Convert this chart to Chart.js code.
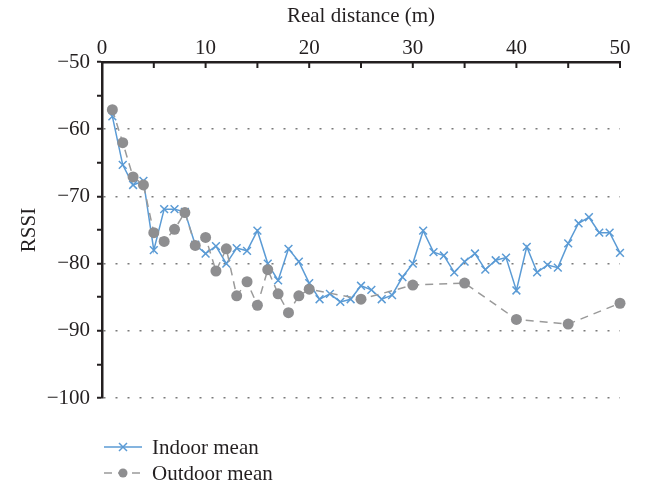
<!DOCTYPE html>
<html>
<head>
<meta charset="utf-8">
<script src="https://cdn.jsdelivr.net/npm/chart.js@4/dist/chart.umd.min.js"></script>
<style>
  html, body { margin: 0; padding: 0; background: #fff; }
</style>
</head>
<body>
<canvas id="myChart" width="645" height="485"></canvas>
<script>
// data
const indoorDistance = [1, 2, 3, 4, 5, 6, 7, 8, 9, 10, 11, 12, 13, 14, 15, 16, 17, 18, 19, 20,
  21, 22, 23, 24, 25, 26, 27, 28, 29, 30, 31, 32, 33, 34, 35, 36, 37, 38, 39, 40,
  41, 42, 43, 44, 45, 46, 47, 48, 49, 50];
const indoorMean = [-58.1, -65.3, -68.3, -67.7, -78.0, -71.9, -71.9, -72.3, -77.2, -78.5,
  -77.4, -80.0, -77.7, -78.1, -75.1, -80.0, -82.5, -77.8, -79.7, -82.9,
  -85.3, -84.5, -85.7, -85.3, -83.3, -83.9, -85.3, -84.7, -82.0, -80.0,
  -75.1, -78.3, -78.8, -81.3, -79.7, -78.5, -80.9, -79.5, -79.1, -84.0,
  -77.5, -81.3, -80.2, -80.6, -77.0, -74.0, -73.1, -75.4, -75.4, -78.4];

const outdoorDistance = [1, 2, 3, 4, 5, 6, 7, 8, 9, 10, 11, 12, 13, 14, 15, 16, 17, 18, 19, 20,
  25, 30, 35, 40, 45, 50];
const outdoorMean = [-57.1, -62.0, -67.1, -68.3, -75.4, -76.7, -74.9, -72.4, -77.3, -76.1,
  -81.1, -77.8, -84.8, -82.7, -86.2, -80.9, -84.5, -87.3, -84.8, -83.8,
  -85.3, -83.2, -82.9, -88.3, -89.0, -85.9];

const xTitle = 'Real distance (m)';
const yTitle = 'RSSI';
const seriesNames = ['Indoor mean', 'Outdoor mean'];

const font = 'Liberation Serif, Times New Roman, serif';
const fontSize = 21;
const ink = '#231f20';
const blue = '#5b9bd5';
const grey = '#8e8e90';

function pts(xs, ys) {
  return xs.map(function (x, i) { return { x: x, y: ys[i] }; });
}
function minus(v) {
  return v < 0 ? '\u2212' + Math.abs(v) : '' + v;
}

// x ticks point down into the plot, and the legend under it
const extras = {
  id: 'extras',
  afterDraw(chart) {
    const ctx = chart.ctx;
    const xs = chart.scales.x;
    const top = chart.chartArea.top;
    ctx.save();
    ctx.strokeStyle = ink;
    ctx.lineWidth = 2;
    xs.ticks.forEach(function (t) {
      const px = xs.getPixelForValue(t.value);
      ctx.beginPath();
      ctx.moveTo(px, top);
      ctx.lineTo(px, top + 6);
      ctx.stroke();
    });

    // legend
    ctx.fillStyle = ink;
    ctx.font = fontSize + 'px ' + font;
    ctx.textAlign = 'left';
    ctx.textBaseline = 'middle';
    const rows = [447, 473];
    chart.data.datasets.forEach(function (ds, i) {
      const y = rows[i];
      ctx.save();
      ctx.strokeStyle = ds.borderColor;
      ctx.lineWidth = ds.borderWidth;
      ctx.setLineDash(ds.borderDash || []);
      ctx.beginPath();
      ctx.moveTo(104, y);
      ctx.lineTo(142, y);
      ctx.stroke();
      ctx.setLineDash([]);
      if (ds.pointStyle === 'crossRot') {
        ctx.lineWidth = 1.5;
        ctx.beginPath();
        ctx.moveTo(119, y - 4); ctx.lineTo(127, y + 4);
        ctx.moveTo(127, y - 4); ctx.lineTo(119, y + 4);
        ctx.stroke();
      } else {
        ctx.fillStyle = ds.pointBackgroundColor;
        ctx.beginPath();
        ctx.arc(123, y, 4.5, 0, Math.PI * 2);
        ctx.fill();
      }
      ctx.restore();
      ctx.fillText(seriesNames[i], 152, y + 1);
    });
    ctx.restore();
  }
};

const data = {
  datasets: [{
    label: seriesNames[0],
    data: pts(indoorDistance, indoorMean),
    borderColor: blue,
    borderWidth: 1.5,
    pointStyle: 'crossRot',
    pointRadius: 5.5,
    pointBorderWidth: 1.5,
    pointBorderColor: blue,
    pointBackgroundColor: blue,
    tension: 0,
    clip: false,
    order: 2
  }, {
    label: seriesNames[1],
    data: pts(outdoorDistance, outdoorMean),
    borderColor: '#9a9a9a',
    borderWidth: 1.5,
    borderDash: [8, 6],
    pointStyle: 'circle',
    pointRadius: 5.5,
    pointBorderWidth: 0,
    pointBackgroundColor: grey,
    pointBorderColor: grey,
    tension: 0,
    clip: false,
    order: 1
  }]
};

const config = {
  type: 'line',
  data: data,
  options: {
    responsive: false,
    animation: false,
    devicePixelRatio: 1,
    layout: { padding: { left: 0, top: 0, right: 25, bottom: 87 } },
    plugins: { legend: { display: false }, tooltip: { enabled: false } },
    scales: {
      x: {
        type: 'linear',
        position: 'top',
        min: 0,
        max: 50,
        grid: { display: false, drawTicks: false },
        border: { display: true, color: ink, width: 2.5 },
        ticks: {
          stepSize: 5,
          autoSkip: false,
          maxRotation: 0,
          padding: 1,
          color: ink,
          font: { family: font, size: fontSize },
          callback: function (v) { return v % 10 === 0 ? v : ''; }
        },
        title: {
          display: true,
          text: xTitle,
          color: ink,
          font: { family: font, size: fontSize },
          padding: { top: 4, bottom: 2 }
        },
        afterFit: function (scale) { scale.height = 62; }
      },
      y: {
        min: -100,
        max: -50,
        grid: {
          color: function (c) {
            const v = c.tick && c.tick.value;
            return (v % 10 === 0 && v !== -50) ? '#7a7a7a' : 'rgba(0,0,0,0)';
          },
          lineWidth: 1.5,
          tickColor: ink,
          tickWidth: 2,
          tickLength: 5
        },
        border: { display: true, color: ink, width: 2.5, dash: [2, 10] },
        ticks: {
          stepSize: 5,
          autoSkip: false,
          padding: 7,
          color: ink,
          font: { family: font, size: fontSize },
          callback: function (v) { return v % 10 === 0 ? minus(v) : ''; }
        },
        title: {
          display: true,
          text: yTitle,
          color: ink,
          font: { family: font, size: fontSize },
          padding: { top: 17, bottom: 4 }
        },
        afterFit: function (scale) { scale.width = 102; }
      }
    }
  },
  plugins: [extras]
};

const myChart = new Chart(document.getElementById('myChart'), config);
</script>
</body>
</html>
